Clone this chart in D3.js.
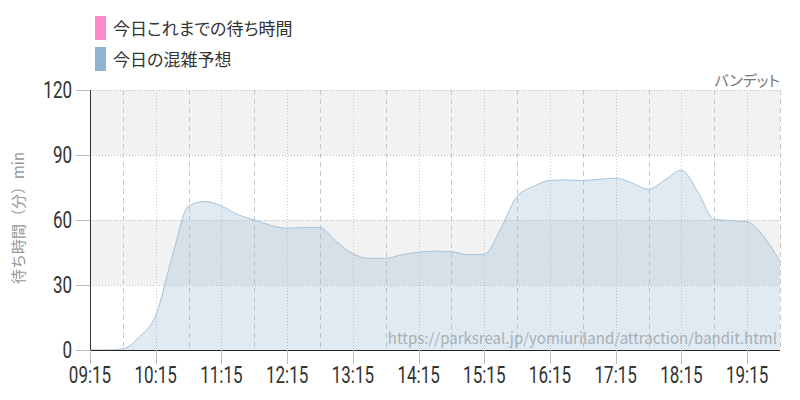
<!DOCTYPE html>
<html><head><meta charset="utf-8">
<script src="https://cdn.jsdelivr.net/npm/d3@7"></script>
<style>
html,body{margin:0;padding:0;background:#fff;}
svg{display:block;}
.jp{font-family:"Noto Sans CJK JP","Noto Sans",sans-serif;font-feature-settings:"palt";}
.jpw{font-family:"Noto Sans CJK JP","Noto Sans",sans-serif;}
.num{font-family:Roboto,"Liberation Sans",sans-serif;}
</style></head>
<body>
<svg id="c" width="800" height="400"></svg>
<script>
// ---- data ----
const times = ["09:15","09:30","09:45","10:00","10:15","10:30","10:45","11:00","11:15","11:30","11:45",
  "12:00","12:15","12:30","12:45","13:00","13:15","13:30","13:45","14:00","14:15","14:30","14:45",
  "15:00","15:15","15:30","15:45","16:00","16:15","16:30","16:45","17:00","17:15","17:30","17:45",
  "18:00","18:15","18:30","18:45","19:00","19:15","19:30","19:45"];
const forecast = [0,0,0.5,6,16,43,66.5,68.5,66.5,62.5,60,
  57.5,56.2,56.5,56.5,50,44.5,42.3,42.3,44,45.1,45.6,45.4,
  44,44.2,56,71,75.5,78.3,78.5,78.2,78.8,79.3,77,74.2,
  78.5,83,73,60.3,59.7,59.2,52.5,40.8];
const todayWait = []; // no observed values drawn
const xTickLabels = ["09:15","10:15","11:15","12:15","13:15","14:15","15:15","16:15","17:15","18:15","19:15"];
const yTicks = [0,30,60,90,120];
const legendLabels = ["今日これまでの待ち時間","今日の混雑予想"];
const legendColors = ["#ff88cc","#8fb3d1"];
const attractionName = "バンデット";
const yTitle = "待ち時間（分）min";
const sourceUrl = "https://parksreal.jp/yomiuriland/attraction/bandit.html";

const toMin = s => { const [h,m] = s.split(":").map(Number); return h*60+m; };

const svg = d3.select("#c");
const L = 90, R = 780, T = 90, B = 350;
const x = d3.scaleLinear().domain([toMin("09:15"), toMin("19:45")]).range([L, R]);
const y = d3.scaleLinear().domain([0,120]).range([B, T]);

// bands
const bands = [[30,60],[90,120]];
svg.selectAll("rect.band").data(bands).join("rect")
  .attr("x", L).attr("width", R-L)
  .attr("y", d => y(d[1])).attr("height", d => y(d[0]) - y(d[1]))
  .attr("fill", "#f2f2f2");

// horizontal grid
svg.selectAll("line.hg").data(yTicks.filter(v=>v>0)).join("line")
  .attr("x1", L).attr("x2", R).attr("y1", d=>y(d)+0.5).attr("y2", d=>y(d)+0.5)
  .attr("stroke", "#bbb").attr("stroke-dasharray", "1,2");

// vertical grid every 30 min
const vg = d3.range(toMin("09:45"), toMin("19:45")+1, 30);
svg.selectAll("line.vg").data(vg).join("line")
  .attr("x1", d=>Math.round(x(d))+0.5).attr("x2", d=>Math.round(x(d))+0.5)
  .attr("y1", T).attr("y2", B)
  .attr("stroke", "#c8c8c8")
  .attr("stroke-dasharray", d => ((d - toMin("09:15")) % 60 === 0) ? "1,2" : "5,4");

// area
const pts = times.map((t,i)=>({m:toMin(t), v:forecast[i]}));
const area = d3.area().x(d=>x(d.m)).y0(B).y1(d=>y(d.v)).curve(d3.curveMonotoneX);
const line = d3.line().x(d=>x(d.m)).y(d=>y(d.v)).curve(d3.curveMonotoneX);
svg.append("path").datum(pts).attr("d", area).attr("fill", "#8fb3d1").attr("fill-opacity", 0.28);
svg.append("path").datum(pts).attr("d", line).attr("fill", "none").attr("stroke", "#a6c2da").attr("stroke-width", 1);

// today's observed (empty)
svg.append("path").datum(todayWait).attr("d", todayWait.length ? line(todayWait) : null)
  .attr("fill","none").attr("stroke", legendColors[0]);

// source text
svg.append("text").attr("class","jp").attr("x", 777).attr("y", 344)
  .attr("text-anchor","end").attr("font-size", 15).attr("fill", "#a9aeb3").text(sourceUrl);

// axes lines
svg.append("line").attr("x1", L+0.5).attr("x2", L+0.5).attr("y1", T).attr("y2", B).attr("stroke", "#333");
svg.append("line").attr("x1", L).attr("x2", R).attr("y1", B+0.5).attr("y2", B+0.5).attr("stroke", "#222");

// y ticks
svg.selectAll("line.yt").data(yTicks).join("line")
  .attr("x1", 76).attr("x2", L).attr("y1", d=>y(d)+0.5).attr("y2", d=>y(d)+0.5).attr("stroke", "#bbb");
svg.selectAll("text.yl").data(yTicks).join("text").attr("class","num")
  .attr("transform", d => `translate(72,${y(d)+8}) scale(0.74,1)`)
  .attr("text-anchor","end").attr("font-size", 23).attr("fill", "#333").text(d=>d);

// x ticks
svg.selectAll("line.xt").data(xTickLabels).join("line")
  .attr("x1", d=>Math.round(x(toMin(d)))+0.5).attr("x2", d=>Math.round(x(toMin(d)))+0.5)
  .attr("y1", B).attr("y2", 364).attr("stroke", "#bbb");
svg.selectAll("text.xl").data(xTickLabels).join("text").attr("class","num")
  .attr("transform", d => `translate(${x(toMin(d))},383) scale(0.74,1)`)
  .attr("text-anchor","middle").attr("font-size", 23).attr("fill", "#333").text(d=>d);

// y title
svg.append("text").attr("class","jpw")
  .attr("transform", "translate(24,218) rotate(-90)")
  .attr("text-anchor","middle").attr("font-size", 15).attr("fill", "#999").text(yTitle);

// attraction name
svg.append("text").attr("class","jp").attr("x", 780).attr("y", 86)
  .attr("text-anchor","end").attr("font-size", 15).attr("fill", "#777").text(attractionName);

// legend
const lg = svg.selectAll("g.lg").data(legendLabels).join("g")
  .attr("transform", (d,i)=>`translate(95,${16 + i*31})`);
lg.append("rect").attr("width", 11).attr("height", 24).attr("fill", (d,i)=>legendColors[i]);
lg.append("text").attr("class","jp").attr("x", 18).attr("y", 19)
  .attr("font-size", 17).attr("fill", "#333").text(d=>d);
</script>
</body></html>
